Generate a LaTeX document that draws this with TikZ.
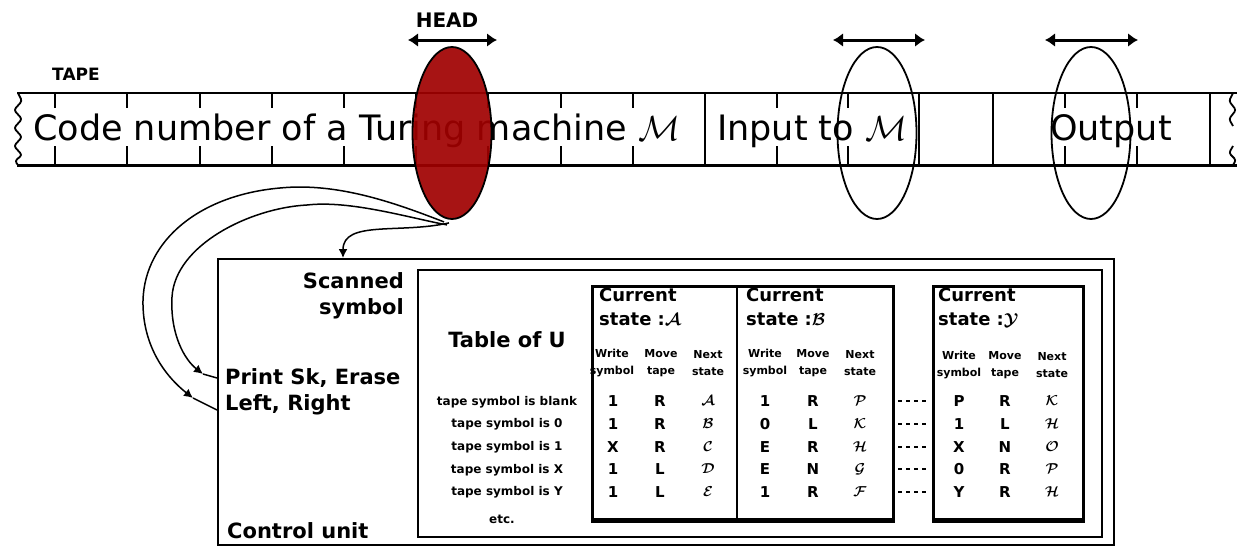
\documentclass[tikz,border=0pt]{standalone}
\usepackage{fontspec}
\setmainfont{DejaVu Sans}
\usetikzlibrary{arrows.meta,shapes.geometric}
\definecolor{headred}{RGB}{160,0,0}
\newcommand{\bigM}{\scalebox{1.4}{$\mathcal{M}$}}
\begin{document}
\begin{tikzpicture}[x=1pt,y=-1pt,
  lab/.style={font=\bfseries\fontsize{21}{26}\selectfont, inner sep=0pt},
  small/.style={font=\bfseries\fontsize{18}{24}\selectfont, inner sep=0pt},
  stlab/.style={font=\bfseries\boldmath\fontsize{18}{24}\selectfont, inner sep=0pt, align=left, anchor=north west},
  colhead/.style={font=\bfseries\fontsize{11}{17}\selectfont, inner sep=0pt, align=center},
  rowlab/.style={font=\bfseries\fontsize{12}{14}\selectfont, inner sep=0pt},
  val/.style={font=\bfseries\boldmath\fontsize{15}{17}\selectfont, inner sep=0pt},
  tapetext/.style={font=\fontsize{35}{40}\selectfont, inner sep=0pt, anchor=base west},
  hdarrow/.style={line width=3pt, {Latex[length=10pt,width=14pt]}-{Latex[length=10pt,width=14pt]}},
  tapeline/.style={line width=1.8pt},
  wire/.style={line width=1.5pt},
  wiretip/.style={wire, -{Latex[length=9pt,width=9pt]}},
  readhead/.style={ellipse, draw, line width=1.8pt, minimum width=79pt, minimum height=172pt, inner sep=0pt},
  sbox/.style={draw, line width=3pt}
]
\useasboundingbox (0,0) rectangle (1237,546);

% ---------- tape ----------
\draw[line width=2.6pt] (17,93) -- (1237,93);
\draw[line width=3pt] (17,165) -- (1237,165);
\draw[tapeline, rounded corners=2.5pt] (18,93) -- (22,101) -- (14,110) -- (22,119) -- (14,128) -- (22,137) -- (14,146) -- (22,155) -- (15,161) -- (18,165);
\draw[tapeline, rounded corners=2.5pt] (1233,93) -- (1229,101) -- (1236,110) -- (1229,119) -- (1233,126);
\draw[tapeline, rounded corners=2.5pt] (1233,146) -- (1229,153) -- (1236,160) -- (1233,165);
\foreach \x in {705,919,993,1210} \draw[tapeline] (\x,93) -- (\x,165);
\foreach \x in {55,127,200,272,344,416,488,561,633,777,848,1065,1137} {
  \draw[tapeline] (\x,93) -- (\x,108);
  \draw[tapeline] (\x,146) -- (\x,165);
}
\node[tapetext] (t1) at (33,140) {Code number of a Turing machine \bigM};
\node[tapetext] (t2) at (717,140) {Input to \bigM};
\node[tapetext] (t3) at (1050,140) {Output};

\node[small, font=\bfseries\fontsize{17}{20}\selectfont] (tape) at (76,74) {TAPE};

% ---------- heads ----------
\node[readhead, fill=headred, fill opacity=0.92] (h1) at (452,133) {};
\node[readhead] (h2) at (877,133) {};
\node[readhead] (h3) at (1091,133) {};
\node[small, font=\bfseries\fontsize{20}{24}\selectfont] (headlab) at (447,20) {HEAD};
\draw[hdarrow] (408,40) -- (497,40);
\draw[hdarrow] (833,40) -- (925,40);
\draw[hdarrow] (1045,40) -- (1138,40);

% ---------- control unit ----------
\node[draw, line width=2pt, minimum width=896pt, minimum height=286pt, anchor=north west, inner sep=0pt] (cu) at (217,258) {};
\node[draw, line width=2pt, minimum width=684pt, minimum height=267pt, anchor=north west, inner sep=0pt] (tu) at (417,269) {};
\node[sbox, minimum width=301pt, minimum height=233pt, anchor=north west, inner sep=0pt] (sab) at (591,285) {};
\draw[line width=4.5pt] (sab.south west) -- (sab.south east);
\draw[line width=2pt] (737,285) -- (737,518);
\node[sbox, minimum width=150pt, minimum height=233pt, anchor=north west, inner sep=0pt] (sy) at (932,285) {};
\draw[line width=4.5pt] (sy.south west) -- (sy.south east);

\coordinate (ss) at (343,258);
\coordinate (pe) at (cu.west |- 0,378);
\coordinate (lr) at (cu.west |- 0,410);
\coordinate (pa) at (203,374);
\coordinate (la) at (193,398);

% connectors
\draw[wiretip] (h1.south) ++(-3,3) .. controls (400,234) and (343,220) .. (ss);
\draw[wiretip] (h1.south) ++(-5,5) .. controls (410,218) and (350,200) .. (307,205)
   .. controls (250,208) and (175,245) .. (172,297)
   .. controls (170,335) and (185,360) .. (pa);
\draw[wire] (pa) -- (pe);
\draw[wiretip] (h1.south) ++(-8,2) .. controls (400,205) and (340,182) .. (280,188)
   .. controls (200,195) and (145,240) .. (143,300)
   .. controls (142,350) and (170,380) .. (la);
\draw[wire] (la) -- (lr);

% labels in the control unit
\node[lab, align=right, anchor=east] (scan) at (404,296) {Scanned\\symbol};
\node[lab, align=left, anchor=west] (print) at (225,392) {Print Sk, Erase\\Left, Right};
\node[lab, anchor=west] (ctrl) at (227,531) {Control unit};
\node[lab] (tab) at (507,340) {Table of U};

\node[rowlab] (r1) at (507,402) {tape symbol is blank};
\node[rowlab] (r2) at (507,424) {tape symbol is 0};
\node[rowlab] (r3) at (507,447) {tape symbol is 1};
\node[rowlab] (r4) at (507,470) {tape symbol is X};
\node[rowlab] (r5) at (507,492) {tape symbol is Y};
\node[rowlab] (r6) at (502,519) {etc.};

% state A
\node[stlab] (sa) at (599,288) {Current\\state :$\mathcal{A}$};
\node[colhead] (a1) at (612,363) {Write\\symbol};
\node[colhead] (a2) at (661,363) {Move\\tape};
\node[colhead] (a3) at (708,363) {Next\\state};
% state B
\node[stlab] (sb) at (746,288) {Current\\state :$\mathcal{B}$};
\node[colhead] (b1) at (765,363) {Write\\symbol};
\node[colhead] (b2) at (813,363) {Move\\tape};
\node[colhead] (b3) at (860,363) {Next\\state};
% state Y
\node[stlab] (sy2) at (938,288) {Current\\state :$\mathcal{Y}$};
\node[colhead] (y1) at (959,365) {Write\\symbol};
\node[colhead] (y2) at (1005,365) {Move\\tape};
\node[colhead] (y3) at (1052,365) {Next\\state};

% values
\foreach \y/\ca/\cb/\cc/\da/\db/\dc/\ea/\eb/\ec [count=\i] in {
  401/1/R/$\mathcal{A}$/1/R/$\mathcal{P}$/P/R/$\mathcal{K}$,
  424/1/R/$\mathcal{B}$/0/L/$\mathcal{K}$/1/L/$\mathcal{H}$,
  447/X/R/$\mathcal{C}$/E/R/$\mathcal{H}$/X/N/$\mathcal{O}$,
  469/1/L/$\mathcal{D}$/E/N/$\mathcal{G}$/0/R/$\mathcal{P}$,
  492/1/L/$\mathcal{E}$/1/R/$\mathcal{F}$/Y/R/$\mathcal{H}$} {
  \node[val] (va\i) at (613,\y) {\ca};
  \node[val] (vb\i) at (660,\y) {\cb};
  \node[val] (vc\i) at (708,\y) {\cc};
  \node[val] (vd\i) at (765,\y) {\da};
  \node[val] (ve\i) at (813,\y) {\db};
  \node[val] (vf\i) at (860,\y) {\dc};
  \node[val] (vg\i) at (959,\y) {\ea};
  \node[val] (vh\i) at (1005,\y) {\eb};
  \node[val] (vi\i) at (1052,\y) {\ec};
  \draw[line width=1.5pt, dash pattern=on 4pt off 4pt] (898,\y) -- (928,\y);
}
\end{tikzpicture}
\end{document}
